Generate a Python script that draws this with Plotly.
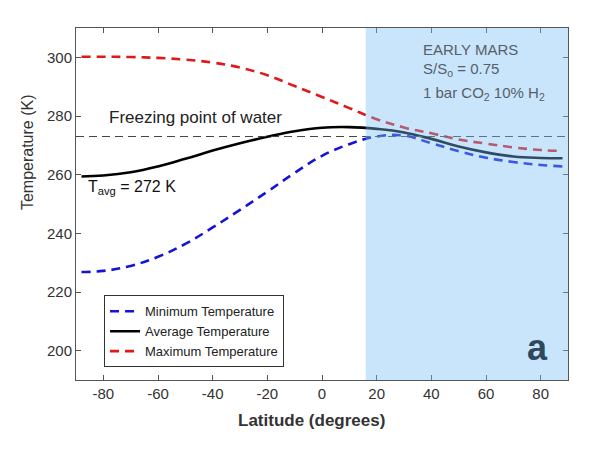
import plotly.graph_objects as go

lat = [-88, -80, -70, -60, -50, -40, -30, -20, -10, 0, 10, 20, 30, 40, 50, 60, 70, 80, 88]
t_min = [226.8, 227.2, 228.9, 232.0, 236.4, 242.0, 248.0, 254.2, 260.6, 266.4, 270.4, 273.0, 273.3, 270.7, 268.0, 265.8, 264.3, 263.3, 262.8]
t_avg = [259.4, 259.7, 260.8, 262.8, 265.4, 268.2, 270.7, 272.9, 274.8, 276.0, 276.2, 275.6, 274.4, 272.2, 269.6, 267.6, 266.2, 265.7, 265.6]
t_max = [300.2, 300.2, 300.1, 299.8, 299.2, 298.2, 296.5, 293.9, 290.2, 286.5, 282.7, 278.9, 276.1, 274.1, 272.0, 270.6, 269.3, 268.4, 268.1]
freeze_T = 273
shade_start = 16
x_ticks = [-80, -60, -40, -20, 0, 20, 40, 60, 80]
y_ticks = [200, 220, 240, 260, 280, 300]

FONT = "Liberation Sans, Arial, Helvetica, sans-serif"

fig = go.Figure()
fig.add_trace(go.Scatter(x=lat, y=t_min, mode="lines", name="Minimum Temperature",
                         line=dict(color="#1414d8", width=2.6, dash="9px,6px", shape="spline", smoothing=1.2)))
fig.add_trace(go.Scatter(x=lat, y=t_avg, mode="lines", name="Average Temperature",
                         line=dict(color="#000000", width=2.6, shape="spline", smoothing=1.2)))
fig.add_trace(go.Scatter(x=lat, y=t_max, mode="lines", name="Maximum Temperature",
                         line=dict(color="#e01818", width=2.6, dash="9px,6px", shape="spline", smoothing=1.2)))

fig.add_shape(type="line", xref="x", yref="y", x0=-90, x1=90, y0=freeze_T, y1=freeze_T,
              line=dict(color="#444444", width=1, dash="8px,5px"), layer="above")
fig.add_shape(type="rect", xref="x", yref="paper", x0=shade_start, x1=90, y0=0, y1=1,
              fillcolor="rgba(120,190,245,0.4)", line=dict(width=0), layer="above")

fig.add_annotation(x=-78.5, y=279.6, text="Freezing point of water", showarrow=False,
                   xanchor="left", yanchor="middle", font=dict(family=FONT, size=17, color="#222222"))
fig.add_annotation(x=-86.2, y=255.5, text="T<sub>avg</sub> = 272 K", showarrow=False,
                   xanchor="left", yanchor="middle", font=dict(family=FONT, size=16, color="#111111"))
fig.add_annotation(x=36.4, y=302.6, text="EARLY MARS", showarrow=False,
                   xanchor="left", yanchor="middle", font=dict(family=FONT, size=15, color="#56606a"))
fig.add_annotation(x=36.4, y=295.8, text="S/S<sub>o</sub> = 0.75", showarrow=False,
                   xanchor="left", yanchor="middle", font=dict(family=FONT, size=15, color="#56606a"))
fig.add_annotation(x=36.4, y=287.6, text="1 bar CO<sub>2</sub> 10% H<sub>2</sub>", showarrow=False,
                   xanchor="left", yanchor="middle", font=dict(family=FONT, size=15, color="#56606a"))
fig.add_annotation(x=79, y=201.2, text="<b>a</b>", showarrow=False,
                   xanchor="center", yanchor="middle", font=dict(family=FONT, size=36, color="#30485e"))

# axis titles as annotations (positioned as in the reference)
fig.add_annotation(x=-3.8, xref="x", y=0, yref="paper", yshift=-40, text="<b>Latitude (degrees)</b>",
                   showarrow=False, xanchor="center", yanchor="middle",
                   font=dict(family=FONT, size=17, color="#333333"))
fig.add_annotation(x=0, xref="paper", xshift=-49, y=267.7, yref="y", text="Temperature (K)",
                   textangle=-90, showarrow=False, xanchor="center", yanchor="middle",
                   font=dict(family=FONT, size=16, color="#333333"))

axis_common = dict(showline=True, linecolor="#555555", linewidth=1, mirror="ticks",
                   ticks="inside", ticklen=5, tickcolor="#555555", showgrid=False, zeroline=False,
                   tickfont=dict(family=FONT, size=15, color="#333333"))

fig.update_xaxes(range=[-90, 90], tickvals=x_ticks, ticktext=[str(v) for v in x_ticks], **axis_common)
fig.update_yaxes(range=[190, 310], tickvals=y_ticks, ticktext=[str(v) for v in y_ticks], **axis_common)

fig.update_layout(
    width=600, height=464,
    margin=dict(l=68, r=40, t=20, b=92),
    plot_bgcolor="white", paper_bgcolor="white",
    font=dict(family=FONT, color="#333333"),
    legend=dict(x=0.057, y=0.036, xanchor="left", yanchor="bottom",
                bgcolor="white", bordercolor="#333333", borderwidth=1,
                font=dict(family=FONT, size=13, color="#222222"),
                itemwidth=30, tracegroupgap=0),
    showlegend=True,
)

fig.write_html("out.html")
